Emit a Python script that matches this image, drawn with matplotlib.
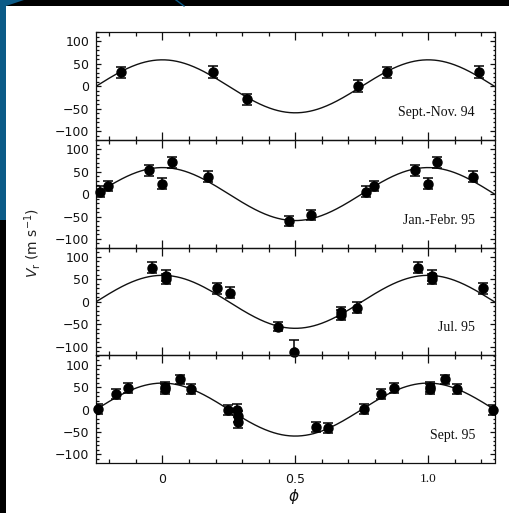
import numpy as np
import matplotlib
matplotlib.use("Agg")
import matplotlib.pyplot as plt
from matplotlib.patches import Rectangle, Polygon
from matplotlib.lines import Line2D
from matplotlib.ticker import MultipleLocator

# ---- data ----
panel_labels = ["Sept.-Nov. 94", "Jan.-Febr. 95", "Jul. 95", "Sept. 95"]

phase_1 = [-0.155, 0.19, 0.32, 0.735]
vel_1 = [31, 32, -29, 1]
err_1 = [13, 13, 12, 13]

phase_2 = [-0.235, -0.205, -0.05, 0.0, 0.035, 0.17, 0.475, 0.56]
vel_2 = [5, 18, 53, 23, 71, 39, -60, -46]
err_2 = [12, 12, 12, 12, 12, 12, 11, 11]

phase_3 = [-0.038, 0.013, 0.013, 0.206, 0.253, 0.436, 0.496, 0.672, 0.672, 0.733]
vel_3 = [76, 58, 51, 30, 20, -56, -111, -22, -29, -13]
err_3 = [12, 12, 12, 12, 12, 10, 26, 11, 11, 12]

phase_4 = [-0.241, -0.176, -0.128, 0.008, 0.008, 0.065, 0.108, 0.246,
           0.281, 0.283, 0.283, 0.577, 0.624]
vel_4 = [2, 35, 49, 51, 45, 67, 46, -1, 0, -15, -28, -39, -41]
err_4 = [11, 11, 11, 11, 11, 11, 11, 12, 12, 12, 12, 11, 11]

phases = [phase_1, phase_2, phase_3, phase_4]
vels = [vel_1, vel_2, vel_3, vel_4]
errs = [err_1, err_2, err_3, err_4]

K_fit = 59.0          # semi-amplitude of the orbital fit (m/s)
x_range = (-0.25, 1.25)
y_range = (-119, 121)
y_ticks = [-100, -50, 0, 50, 100]
x_ticks = [0, 0.5, 1.0]
x_ticklabels = ["0", "0.5", "1.0"]

# ---- figure ----
W, H = 509, 513
fig = plt.figure(figsize=(W / 100, H / 100), dpi=100, facecolor="black")

# slide background: white page, blue strip at left
blue = "#0b5a87"
fig.patches.append(Rectangle((6 / W, 0), 1 - 6 / W, 1 - 6 / H,
                             transform=fig.transFigure, facecolor="white",
                             edgecolor="none", zorder=-10))
fig.patches.append(Rectangle((0, 1 - 220 / H), 6 / W, 220 / H,
                             transform=fig.transFigure, facecolor=blue,
                             edgecolor="none", zorder=-10))
fig.patches.append(Polygon([(0, 1), (24 / W, 1), (6 / W, 1 - 6 / H), (0, 1 - 6 / H)],
                           closed=True, transform=fig.transFigure,
                           facecolor=blue, edgecolor="none", zorder=-10))
fig.lines.append(Line2D([176 / W, 184 / W], [1, 1 - 6 / H], transform=fig.transFigure,
                        color=blue, lw=1.0, zorder=-9))

left_px, right_px = 96, 494.5
top_px, bot_px = 32, 463
ph = (bot_px - top_px) / 4

sans = "DejaVu Sans"
phi_curve = np.linspace(x_range[0], x_range[1], 400)
for i in range(4):
    ax = fig.add_axes([left_px / W, 1 - (top_px + (i + 1) * ph) / H,
                       (right_px - left_px) / W, ph / H])
    ax.set_facecolor("none")
    ax.set_xlim(*x_range)
    ax.set_ylim(*y_range)

    ax.plot(phi_curve, K_fit * np.cos(2 * np.pi * phi_curve), color="#111111", lw=1.0)

    # phase-folded points repeated one cycle where they fall in the window
    px, py, pe = [], [], []
    for p, v, e in zip(phases[i], vels[i], errs[i]):
        for shift in (-1, 0, 1):
            q = p + shift
            if x_range[0] - 1e-9 <= q <= x_range[1] + 1e-9:
                px.append(q); py.append(v); pe.append(e)
    ax.errorbar(px, py, yerr=pe, fmt="none", ecolor="black",
                elinewidth=1.1, capsize=3.5, capthick=1.1, zorder=3)
    ax.plot(px, py, "o", color="black", ms=6.5, clip_on=False, zorder=4)

    ax.text(0.951, 0.255, panel_labels[i], transform=ax.transAxes, ha="right",
            va="center", fontsize=10, family="Liberation Serif", color="#111111")

    for s in ax.spines.values():
        s.set_linewidth(0.9)
        s.set_color("#111111")
    ax.set_yticks(y_ticks)
    ax.yaxis.set_minor_locator(MultipleLocator(10))
    ax.set_xticks(x_ticks)
    ax.xaxis.set_minor_locator(MultipleLocator(0.1))
    ax.tick_params(axis="both", which="both", direction="in", top=True, right=True,
                   color="#111111", width=0.9)
    ax.tick_params(axis="x", which="major", length=6)
    ax.tick_params(axis="x", which="minor", length=3)
    ax.tick_params(axis="y", which="major", length=3.5, labelsize=9, pad=5,
                   labelcolor="#111111")
    ax.tick_params(axis="y", which="minor", length=1.8)
    for lab in ax.get_yticklabels():
        lab.set_family(sans)
    if i < 3:
        ax.tick_params(axis="x", labelbottom=False)
    else:
        labs = ax.set_xticklabels(x_ticklabels, fontsize=9, family=sans,
                                  color="#111111")
        labs[2].set_family("Liberation Serif")
        labs[2].set_fontsize(9.5)
        ax.tick_params(axis="x", which="major", pad=7)

fig.text(33 / W, 1 - 243 / H, r"$V_{\rm r}$ (m s$^{-1}$)", rotation=90,
         ha="center", va="center", fontsize=10, color="#222222")
fig.text(294 / W, 1 - 497 / H, r"$\phi$", ha="center", va="center", fontsize=11,
         color="#111111")

fig.savefig("out.png", dpi=100, facecolor=fig.get_facecolor())
